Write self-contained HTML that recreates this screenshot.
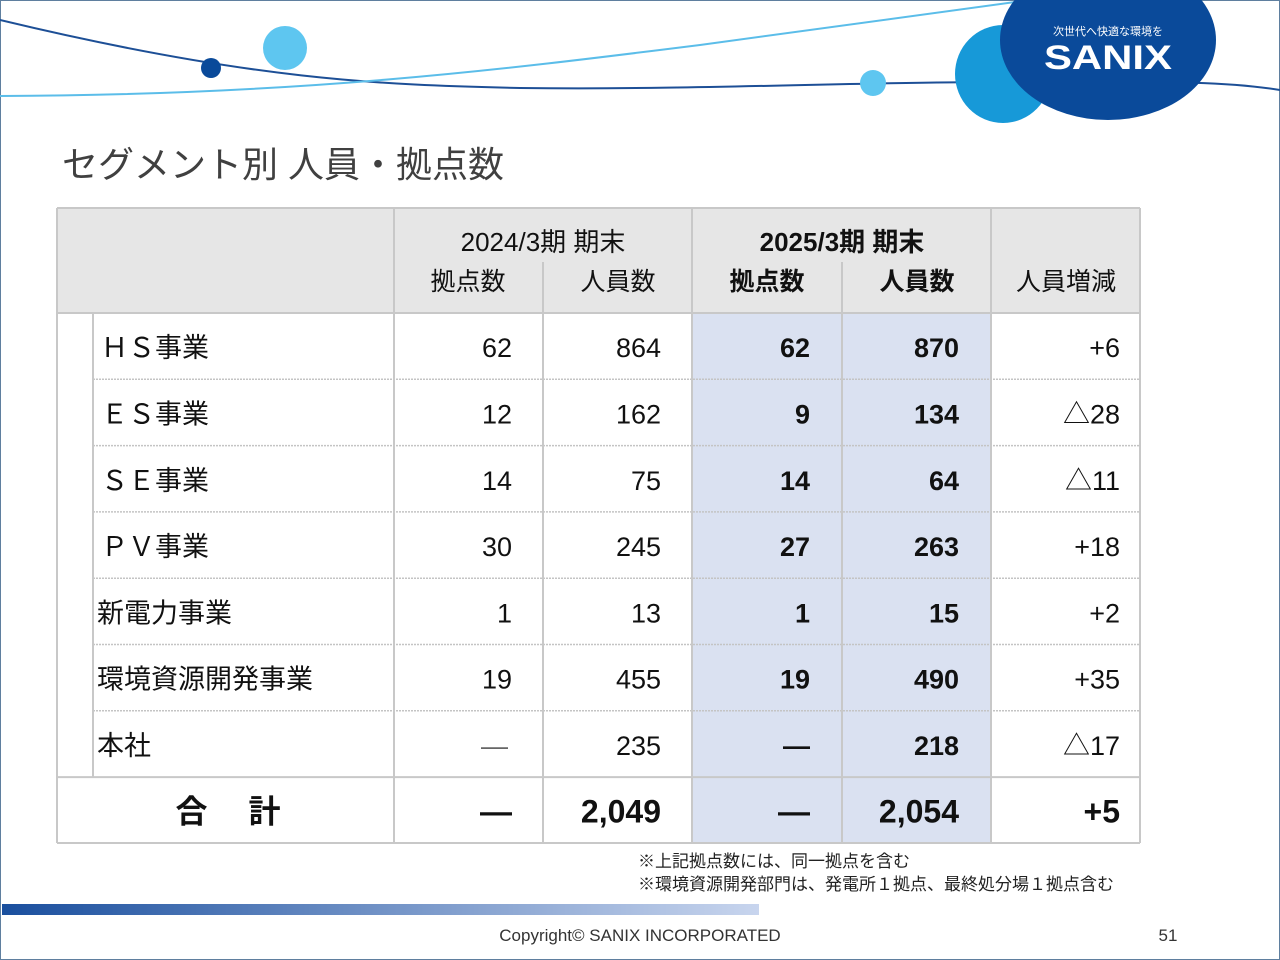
<!DOCTYPE html>
<html><head><meta charset="utf-8">
<style>
html,body{margin:0;padding:0;background:#fff;}
svg{display:block;font-family:"Liberation Sans","Noto Sans CJK JP",sans-serif;}
</style></head>
<body>
<svg id="s" width="1280" height="960" viewBox="0 0 1280 960">
<defs>
<linearGradient id="bar" x1="0" x2="1"><stop offset="0" stop-color="#1a4f9e"/><stop offset="1" stop-color="#c8d5ee"/></linearGradient>
</defs>
<rect x="0.5" y="0.5" width="1279" height="959" fill="#fff" stroke="#5f7f9f"/>
<g>
<path d="M0,20 C250,80 380,85 520,88 C700,90 850,82 1000,82 C1150,82 1220,80 1280,90" fill="none" stroke="#1d4f96" stroke-width="2"/>
<path d="M0,96 C300,95 500,70 700,45 C850,25 950,10 1030,0" fill="none" stroke="#5bbde9" stroke-width="2"/>
<circle cx="285" cy="48" r="22" fill="#5ec6f0"/>
<circle cx="211" cy="68" r="10" fill="#0a4a9a"/>
<circle cx="873" cy="83" r="13" fill="#5ec6f0"/>
<ellipse cx="1003" cy="74" rx="48" ry="49" fill="#1799d8"/>
<ellipse cx="1108" cy="40" rx="108" ry="80" fill="#0a4a9a"/>
<text x="1108" y="35" fill="#fff" font-size="11" text-anchor="middle">次世代へ快適な環境を</text>
<text x="1108" y="69" fill="#fff" font-size="34" font-weight="bold" text-anchor="middle" textLength="128" lengthAdjust="spacingAndGlyphs">SANIX</text>
</g>
<text x="62" y="177" font-size="36" fill="#404040">セグメント別 人員・拠点数</text>
<g id="tbl">
<rect x="57" y="208" width="1083" height="105" fill="#e6e6e6"/>
<rect x="692" y="313" width="299" height="530" fill="#dae1f1"/>
</g>
<g id="texts"></g>
<text x="638" y="867" font-size="17" fill="#222">※上記拠点数には、同一拠点を含む</text>
<text x="638" y="890" font-size="17" fill="#222">※環境資源開発部門は、発電所１拠点、最終処分場１拠点含む</text>
<rect x="2" y="904" width="757" height="11" fill="url(#bar)"/>
<text x="640" y="941" font-size="17" fill="#333" text-anchor="middle">Copyright©  SANIX INCORPORATED</text>
<text x="1168" y="941" font-size="17" fill="#333" text-anchor="middle">51</text>
</svg>
<script>
const segments=["ＨＳ事業","ＥＳ事業","ＳＥ事業","ＰＶ事業","新電力事業","環境資源開発事業","本社"];
const sites2024=["62","12","14","30","1","19","—"];
const staff2024=["864","162","75","245","13","455","235"];
const sites2025=["62","9","14","27","1","19","—"];
const staff2025=["870","134","64","263","15","490","218"];
const staffDiff=["+6","△28","△11","+18","+2","+35","△17"];
const totals=["—","2,049","—","2,054","+5"];
const NS="http://www.w3.org/2000/svg";
const T=document.getElementById('texts');
const G=document.getElementById('tbl');
function el(tag,attrs,parent){const e=document.createElementNS(NS,tag);for(const k in attrs)e.setAttribute(k,attrs[k]);parent.appendChild(e);return e;}
function txt(x,y,s,size,anchor,bold,parent){const e=el('text',{x:x,y:y,'font-size':size,'text-anchor':anchor,fill:'#111','font-weight':bold?'bold':'normal'},parent);e.textContent=s;return e;}
const top0=313,rh=66.3;
const rights=[512,661,810,959,1120];
let h;
h=txt(543,251,"2024/3期  期末",26,'middle',false,T);


h=txt(842,251,"2025/3期 期末",26,'middle',true,T);


const sub=[["拠点数",468,false],["人員数",618,false],["拠点数",767,true],["人員数",917,true],["人員増減",1066,false]];
sub.forEach(s=>{const e=txt(s[1],290,s[0],25,'middle',s[2],T);

});
for(let i=0;i<segments.length;i++){
 const cy=top0+rh*i+rh/2+11;
 let e=txt(i<4?101:97,cy,segments[i],27,'start',false,T);
 
 
 const vals=[sites2024[i],staff2024[i],sites2025[i],staff2025[i],staffDiff[i]];
 vals.forEach((v,j)=>{
  let x=rights[j];
  if(v==='—'&&j===0)x=rights[j]-4;
  const c=txt(x,cy,v,27,'end',j===2||j===3,T);
  if(v==='—'&&j===0){c.setAttribute('font-weight','100');c.setAttribute('fill','#666');}
  
  
 });
 if(i>0){const ln=el('line',{x1:93,x2:1140,y1:top0+rh*i,y2:top0+rh*i,stroke:'#c4c4c4','stroke-width':1.5,'stroke-dasharray':'2 1'},G);
 
 }
}
const totY=top0+rh*7;
let tl=txt(228,totY+rh/2+12,"合　 計",32,'middle',true,T);


totals.forEach((v,j)=>{const c=txt(rights[j],totY+rh/2+12,v,32,'end',true,T);

});
const gl=(x1,y1,x2,y2)=>{const l=el('line',{x1,y1,x2,y2,stroke:'#c8c8c8','stroke-width':2},G);

};
gl(57,208,1140,208);gl(57,313,1140,313);gl(57,totY,1140,totY);gl(57,843,1140,843);
gl(57,208,57,843);gl(1140,208,1140,843);gl(93,313,93,totY);
[394,692,991].forEach(x=>gl(x,208,x,843));
[543,842].forEach(x=>gl(x,262,x,843));
</script>
</body></html>
